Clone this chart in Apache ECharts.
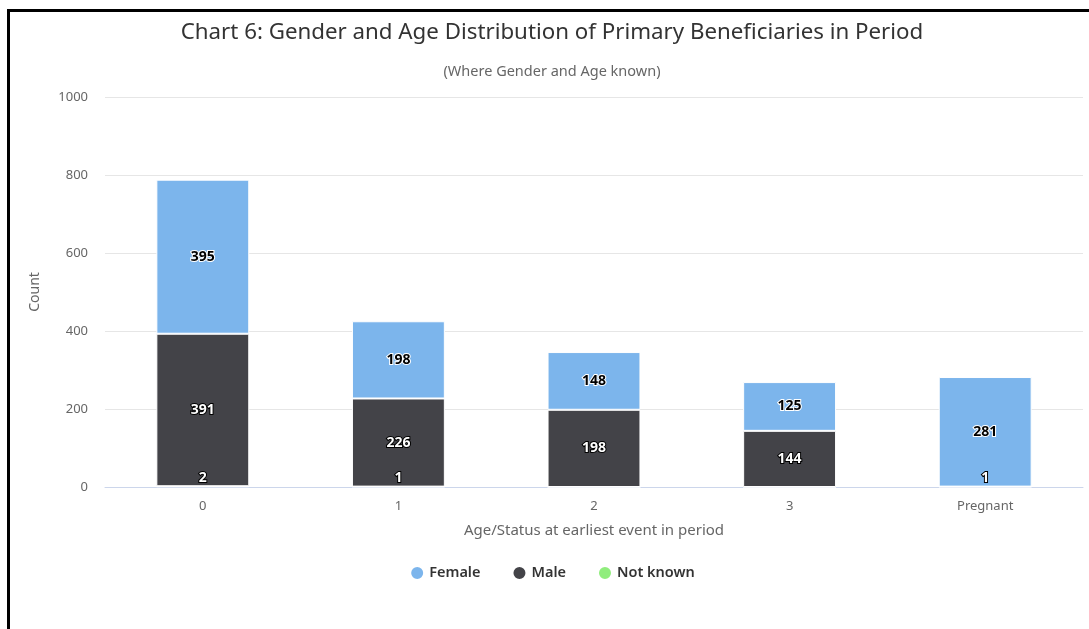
<!DOCTYPE html>
<html>
<head>
<meta charset="utf-8">
<script src="https://cdn.jsdelivr.net/npm/echarts@6/dist/echarts.min.js"></script>
<style>
html,body{margin:0;padding:0;background:#fff;overflow:hidden;width:1089px;height:629px;}
#frame{position:absolute;left:7px;top:9px;width:1082px;height:620px;border-left:3px solid #000;border-top:3px solid #000;}
#chart{position:absolute;left:0;top:0;width:1104px;height:629px;}
</style>
</head>
<body>
<div id="frame"></div>
<div id="chart"></div>
<script>
const categories = ['0', '1', '2', '3', 'Pregnant'];
const femaleValues = [395, 198, 148, 125, 281];
const maleValues = [391, 226, 198, 144, 0];
const notKnownValues = [2, 1, 0, 0, 1];
const yTicks = [0, 200, 400, 600, 800, 1000];

const FONT = '"Noto Sans", "DejaVu Sans", sans-serif';
const chart = echarts.init(document.getElementById('chart'), null, {renderer: 'canvas'});

function lbl(color, border, pos, dist) {
  return {
    show: true,
    position: pos,
    distance: dist,
    color: color,
    textBorderColor: border,
    textBorderWidth: 2,
    fontWeight: 'bold',
    fontSize: 14,
    fontFamily: FONT,
    formatter: p => (p.value ? String(p.value) : '')
  };
}

chart.setOption({
  animation: false,
  backgroundColor: 'transparent',
  title: [{
    text: 'Chart 6: Gender and Age Distribution of Primary Beneficiaries in Period',
    left: 'center', top: 17,
    textStyle: {fontSize: 22.3, fontWeight: 'normal', color: '#333', fontFamily: FONT}
  }, {
    text: '(Where Gender and Age known)',
    left: 'center', top: 59,
    textStyle: {fontSize: 14.5, fontWeight: 'normal', color: '#666', fontFamily: FONT}
  }],
  legend: {
    data: ['Female', 'Male', 'Not known'],
    bottom: 43,
    left: 'center',
    icon: 'circle',
    itemWidth: 14, itemHeight: 14,
    itemGap: 31,
    textStyle: {fontSize: 14.5, fontWeight: 600, color: '#333', fontFamily: FONT}
  },
  grid: {left: 105, right: 21, top: 97, bottom: 142, containLabel: false},
  xAxis: {
    type: 'category',
    data: categories,
    name: 'Age/Status at earliest event in period',
    nameLocation: 'middle',
    nameGap: 36,
    nameTextStyle: {fontSize: 15, color: '#666', fontFamily: FONT},
    axisLine: {lineStyle: {color: '#ccd6eb'}},
    axisTick: {show: false},
    axisLabel: {fontSize: 13, color: '#666', margin: 13, fontFamily: FONT}
  },
  yAxis: {
    type: 'value',
    min: 0, max: 1000, interval: 200,
    name: 'Count',
    nameLocation: 'middle',
    nameGap: 63,
    nameTextStyle: {fontSize: 14, color: '#666', fontFamily: FONT},
    axisLabel: {fontSize: 13, color: '#666', margin: 17, fontFamily: FONT,
      formatter: v => (yTicks.includes(v) ? String(v) : '')},
    splitLine: {lineStyle: {color: '#e6e6e6'}},
    axisLine: {show: false},
    axisTick: {show: false}
  },
  series: [{
    name: 'Not known', type: 'bar', stack: 'a',
    data: notKnownValues,
    barWidth: '47.5%',
    itemStyle: {color: '#90ed7d', borderColor: '#fff', borderWidth: 1},
    label: lbl('#fff', '#000', 'top', 1)
  }, {
    name: 'Male', type: 'bar', stack: 'a',
    data: maleValues,
    itemStyle: {color: '#434348', borderColor: '#fff', borderWidth: 1},
    label: lbl('#fff', '#000', 'inside', 5)
  }, {
    name: 'Female', type: 'bar', stack: 'a',
    data: femaleValues,
    itemStyle: {color: '#7cb5ec', borderColor: '#fff', borderWidth: 1},
    label: lbl('#000', '#fff', 'inside', 5)
  }]
});
</script>
</body>
</html>
